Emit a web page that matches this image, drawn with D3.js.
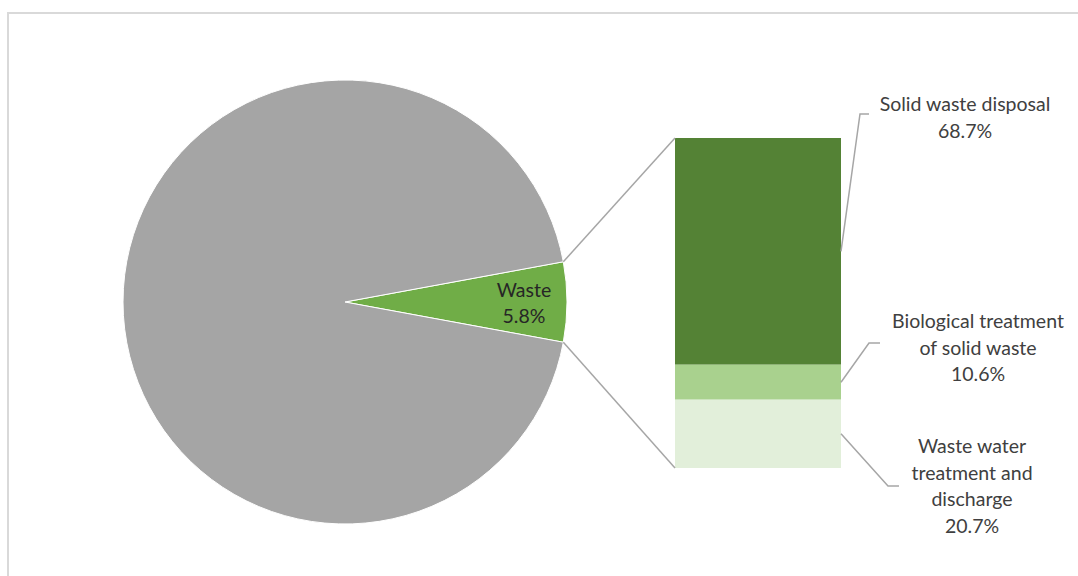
<!DOCTYPE html>
<html><head><meta charset="utf-8">
<script src="https://cdn.jsdelivr.net/npm/d3@7"></script>
<style>html,body{margin:0;padding:0;background:#fff;}svg{display:block;}</style>
</head><body>
<svg id="c" width="1078" height="576"></svg>
<script>
const pieCategories = ["Waste", "Other"];
const pieValues = [5.8, 94.2];
const barCategories = ["Solid waste disposal", "Biological treatment of solid waste", "Waste water treatment and discharge"];
const barValues = [68.7, 10.6, 20.7];
const barLabelLines = [["Solid waste disposal"], ["Biological treatment", "of solid waste"], ["Waste water", "treatment and", "discharge"]];

const pieColors = ["#70ad47", "#a5a5a5"];
const barColors = ["#548235", "#a9d18e", "#e2efda"];

const svg = d3.select("#c");
const FONT = "Lato, 'Open Sans', sans-serif";
const FS = 19.5;

svg.append("rect").attr("x", 8).attr("y", 13).attr("width", 1100).attr("height", 600)
  .attr("fill", "#fff").attr("stroke", "#d9d9d9").attr("stroke-width", 2);

const cx = 345, cy = 302, R = 222;
const wasteFrac = pieValues[0] / d3.sum(pieValues);
const start = Math.PI / 2 - wasteFrac * Math.PI;
const pie = d3.pie().sort(null).startAngle(start).endAngle(start + 2 * Math.PI);
const arcs = pie(pieValues);
const arc = d3.arc().innerRadius(0).outerRadius(R);
const g = svg.append("g").attr("transform", `translate(${cx},${cy})`);
g.selectAll("path").data(arcs).join("path")
  .attr("d", arc).attr("fill", (d, i) => pieColors[i])
  .attr("stroke", "#fff").attr("stroke-width", 1);

// bar
const barX = 675, barW = 166, barTop = 138, barBottom = 468;
const y = d3.scaleLinear().domain([0, d3.sum(barValues)]).range([barTop, barBottom]);
let acc = 0;
const stacked = barValues.map(v => { const s = { y0: acc, y1: acc + v, v }; acc += v; return s; });
svg.selectAll("rect.bar").data(stacked).join("rect").attr("class", "bar")
  .attr("x", barX).attr("width", barW)
  .attr("y", d => y(d.y0)).attr("height", d => y(d.y1) - y(d.y0))
  .attr("fill", (d, i) => barColors[i]);

// connector lines
const a0 = arcs[0].startAngle, a1 = arcs[0].endAngle;
const pt = a => [cx + R * Math.sin(a), cy - R * Math.cos(a)];
const pTop = pt(a0), pBot = pt(a1);
svg.append("line").attr("x1", pTop[0]).attr("y1", pTop[1]).attr("x2", barX).attr("y2", y(0))
  .attr("stroke", "#a6a6a6").attr("stroke-width", 1.5);
svg.append("line").attr("x1", pBot[0]).attr("y1", pBot[1]).attr("x2", barX).attr("y2", y(d3.sum(barValues)))
  .attr("stroke", "#a6a6a6").attr("stroke-width", 1.5);

// waste label
const wl = svg.append("text").attr("text-anchor", "middle").attr("font-family", FONT)
  .attr("font-size", FS).attr("fill", "#262626");
wl.append("tspan").attr("x", 524).attr("y", 297).text(pieCategories[0]);
wl.append("tspan").attr("x", 524).attr("y", 323).text(pieValues[0].toFixed(1) + "%");

// bar labels
const labelPos = [
  { x: 965, y: 111, lead: [[841, null], [860, 114], [869, 114]] },
  { x: 978, y: 328, lead: [[841, null], [869, 343], [880, 343]] },
  { x: 972, y: 453, lead: [[841, null], [888, 486], [899, 486]] }
];
const LH = 26.5;
stacked.forEach((d, i) => {
  const p = labelPos[i];
  const pts = p.lead.map(q => [q[0], q[1] === null ? (y(d.y0) + y(d.y1)) / 2 : q[1]]);
  svg.append("path").attr("d", d3.line()(pts)).attr("fill", "none")
    .attr("stroke", "#a6a6a6").attr("stroke-width", 1.5);
  const t = svg.append("text").attr("text-anchor", "middle").attr("font-family", FONT)
    .attr("font-size", FS).attr("fill", "#404040");
  const lines = barLabelLines[i].concat([d.v.toFixed(1) + "%"]);
  lines.forEach((ln, k) => t.append("tspan").attr("x", p.x).attr("y", p.y + k * LH).text(ln));
});
</script>
</body></html>
